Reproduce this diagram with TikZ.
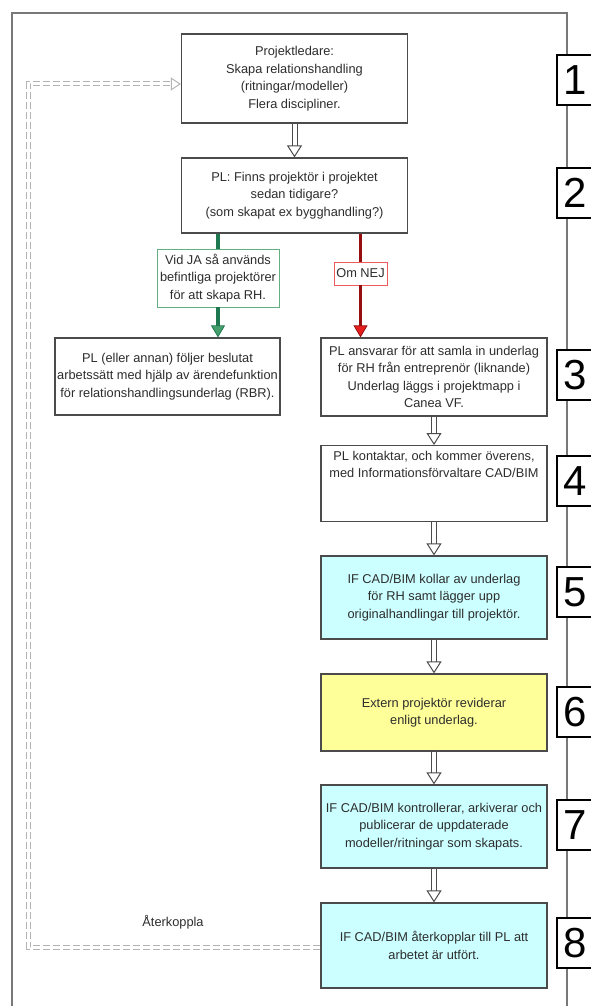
\documentclass[tikz,border=0pt]{standalone}
\usepackage{fontspec}
\setmainfont{Liberation Sans}
\usepackage{tikz}
\usetikzlibrary{arrows.meta}
\definecolor{frameGray}{RGB}{120,120,120}
\definecolor{boxLine}{RGB}{75,75,75}
\definecolor{textGray}{RGB}{45,45,45}
\definecolor{ifCyan}{RGB}{204,255,255}
\definecolor{extYellow}{RGB}{255,255,153}
\definecolor{jaGreen}{RGB}{30,120,80}
\definecolor{jaGreenLight}{RGB}{70,160,110}
\definecolor{jaBorder}{RGB}{100,175,130}
\definecolor{nejRed}{RGB}{150,15,15}
\definecolor{nejRedLight}{RGB}{230,30,30}
\definecolor{nejBorder}{RGB}{240,90,90}
\definecolor{fbGray}{RGB}{180,180,180}

\tikzset{
  stepbox/.style={draw=boxLine, line width=1.2pt, fill=white, text=textGray,
    align=center, minimum width=226pt, inner sep=2pt,
    font=\fontsize{12.8}{17.5}\selectfont},
  labelbox/.style={draw=#1, line width=0.9pt, fill=white, text=textGray,
    align=center, inner sep=1pt, font=\fontsize{12.8}{17.5}\selectfont},
  numbox/.style={draw=black, line width=1.2pt, fill=white, minimum width=36pt,
    minimum height=50pt, inner sep=0pt, font=\fontsize{42}{42}\selectfont},
  hollow/.style={draw=boxLine, line width=1pt, double=white, double distance=4pt,
    -{Triangle[open, length=12pt, width=15pt, line width=1pt]}},
  feedback/.style={draw=fbGray, line width=1pt, double=white, double distance=3pt,
    dash pattern=on 7pt off 3pt, -{Triangle[open, length=10pt, width=13pt, line width=1pt]}}
}

\begin{document}
\begin{tikzpicture}[x=1pt, y=-1pt]
  \useasboundingbox (0,0) rectangle (590,1006);
  % frame round the flow
  \draw[frameGray, line width=1.3pt] (12,1010) -- (12,13) -- (567,13) -- (567,1010);

  % boxes
  \node[stepbox, minimum height=89pt] (n1) at (294.5,78.5)
    {Projektledare:\\Skapa relationshandling\\(ritningar/modeller)\\Flera discipliner.};
  \node[stepbox, minimum height=75pt] (n2) at (294.5,195.5)
    {PL: Finns projektör i projektet\\sedan tidigare?\\(som skapat ex bygghandling?)};
  \node[labelbox=jaBorder, minimum width=122pt, minimum height=58pt] (ja) at (218,278)
    {Vid JA så används\\befintliga projektörer\\för att skapa RH.};
  \node[labelbox=nejBorder, minimum width=53pt, minimum height=23pt] (nej) at (360.5,273.5)
    {Om NEJ};
  \node[stepbox, minimum width=225pt, minimum height=77pt] (rbr) at (167.5,376.5)
    {PL (eller annan) följer beslutat\\arbetssätt med hjälp av ärendefunktion\\för relationshandlingsunderlag (RBR).};
  \node[stepbox, minimum height=78pt] (n3) at (434,377)
    {PL ansvarar för att samla in underlag\\för RH från entreprenör (liknande)\\Underlag läggs i projektmapp i\\Canea VF.};
  \node[stepbox, anchor=north, minimum height=76pt, inner ysep=5pt, text depth=38pt] (n4) at (434,445)
    {PL kontaktar, och kommer överens,\\med Informationsförvaltare CAD/BIM};
  \node[stepbox, fill=ifCyan, minimum height=83pt] (n5) at (434,597.5)
    {IF CAD/BIM kollar av underlag\\för RH samt lägger upp\\originalhandlingar till projektör.};
  \node[stepbox, fill=extYellow, minimum height=77pt] (n6) at (434,712.5)
    {Extern projektör reviderar\\enligt underlag.};
  \node[stepbox, fill=ifCyan, minimum height=83pt] (n7) at (434,826.5)
    {IF CAD/BIM kontrollerar, arkiverar och\\publicerar de uppdaterade\\modeller/ritningar som skapats.};
  \node[stepbox, fill=ifCyan, minimum height=85pt] (n8) at (434,945.5)
    {IF CAD/BIM återkopplar till PL att\\arbetet är utfört.};

  % step numbers
  \node[numbox] (s1) at (575,80) {1};
  \node[numbox] (s2) at (575,193) {2};
  \node[numbox] (s3) at (575,375) {3};
  \node[numbox] (s4) at (575,481) {4};
  \node[numbox] (s5) at (575,592) {5};
  \node[numbox] (s6) at (575,712) {6};
  \node[numbox] (s7) at (575,825) {7};
  \node[numbox] (s8) at (575,943) {8};

  % main flow
  \draw[hollow] (n1) -- (n2);
  \draw[hollow] (n3) -- (n4);
  \draw[hollow] (n4) -- (n5);
  \draw[hollow] (n5) -- (n6);
  \draw[hollow] (n6) -- (n7);
  \draw[hollow] (n7) -- (n8);

  % JA / NEJ branches
  \draw[jaGreen, line width=3.5pt] (n2.south -| ja) -- (ja.north);
  \draw[jaGreen, line width=3.5pt,
    -{Triangle[length=12pt, width=14pt, line width=0.8pt, fill=jaGreenLight]}]
    (ja.south) -- (ja |- rbr.north);
  \draw[nejRed, line width=3.5pt] (n2.south -| nej) -- (nej.north);
  \draw[nejRed, line width=3.5pt,
    -{Triangle[length=12pt, width=14pt, line width=0.8pt, fill=nejRedLight]}]
    (nej.south) -- (nej |- n3.north);

  % feedback loop back to step 1
  \coordinate (fbbot) at (28,947);
  \coordinate (fbtop) at (28,84);
  \draw[feedback] (n8.west |- fbbot) -- (fbbot) -- (fbtop) -- (n1.west |- fbtop);
  \node[text=textGray, font=\fontsize{12.8}{15}\selectfont] (fbtext) at (173,922) {Återkoppla};
\end{tikzpicture}
\end{document}
